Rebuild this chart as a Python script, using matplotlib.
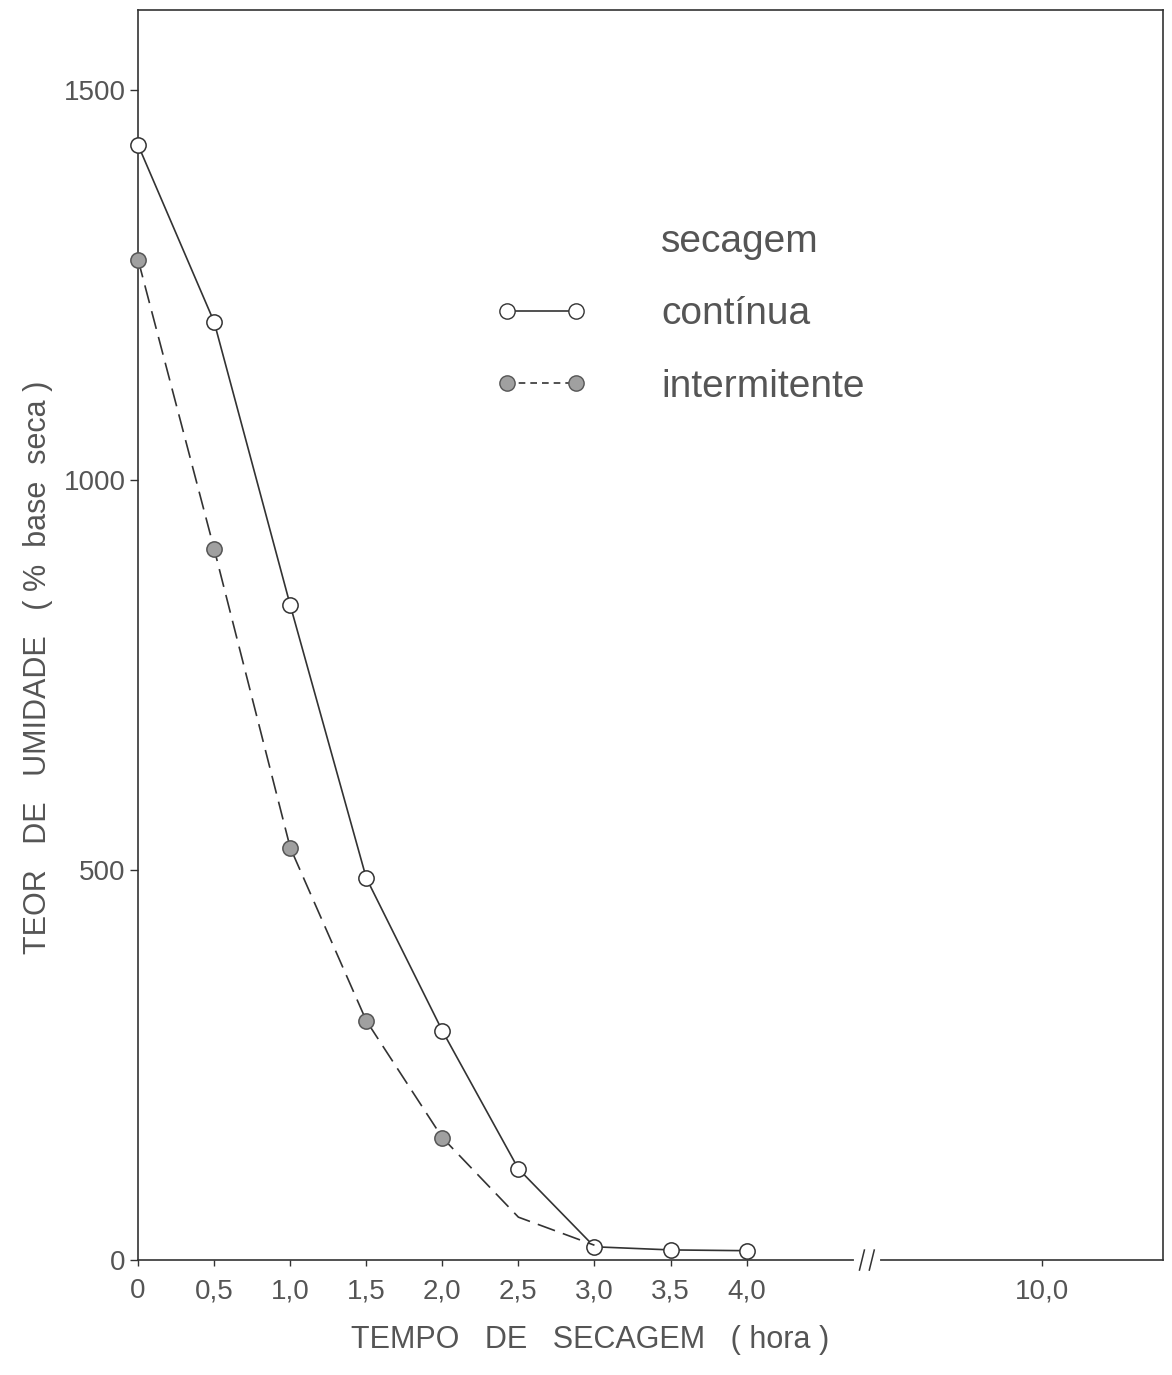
import matplotlib
matplotlib.use("Agg")
import matplotlib.pyplot as plt
import numpy as np
from matplotlib.lines import Line2D

plt.rcParams['font.family'] = ['Liberation Sans', 'DejaVu Sans']

TXT = '#555555'
LN = '#333333'

# tempo de secagem (hora)
tempo_cont = [0, 0.5, 1.0, 1.5, 2.0, 2.5, 3.0, 3.5, 4.0]
umid_cont = [1430, 1203, 840, 490, 294, 117, 17, 13, 12]

tempo_int = [0, 0.5, 1.0, 1.5, 2.0, 2.5, 3.0]
umid_int = [1283, 912, 529, 307, 157, 55, 19]

xticks = [0, 0.5, 1.0, 1.5, 2.0, 2.5, 3.0, 3.5, 4.0, 10.0]
xticklabels = ['0', '0,5', '1,0', '1,5', '2,0', '2,5', '3,0', '3,5', '4,0', '10,0']
yticks = [0, 500, 1000, 1500]

# broken x axis: from 4 h onward the scale is compressed
K = 0.324


def fwd(x):
    x = np.asarray(x, dtype=float)
    return np.where(x <= 4, x, 4 + (x - 4) * K)


def inv(p):
    p = np.asarray(p, dtype=float)
    return np.where(p <= 4, p, 4 + (p - 4) / K)


fig = plt.figure(figsize=(11.72, 13.75), dpi=100)
ax = fig.add_axes([0.1178, 0.0836, 0.8746, 0.9091])
ax.set_xscale('function', functions=(fwd, inv))

ax.plot(tempo_cont, umid_cont, color=LN, lw=1.2, marker='o', ms=11,
        mfc='white', mec=LN, mew=1.1, clip_on=False, zorder=3)
ax.plot(tempo_int, umid_int, color=LN, lw=1.2, dashes=(11, 5), marker='o',
        ms=11, mfc='#a0a0a0', mec='#555555', mew=1.1, markevery=[0, 1, 2, 3, 4],
        clip_on=False, zorder=3)

ax.set_xlim(0, 12.45)
ax.set_ylim(0, 1603)
ax.set_xticks(xticks)
ax.set_xticklabels(xticklabels)
ax.set_yticks(yticks)
ax.minorticks_off()
ax.tick_params(direction='out', width=1, color=LN, labelsize=20, labelcolor=TXT)
ax.tick_params(axis='x', length=4, pad=9)
ax.tick_params(axis='y', length=6, pad=3)
for s in ax.spines.values():
    s.set_color(LN)
    s.set_linewidth(1.2)

ax.set_xlabel('TEMPO   DE   SECAGEM   ( hora )', fontsize=22, color=TXT)
ax.xaxis.set_label_coords(0.441, -0.052)
ax.set_ylabel('TEOR   DE   UMIDADE   ( %  base  seca )', fontsize=22, color=TXT)
ax.yaxis.set_label_coords(-0.083, 0.474)

# break mark on the x axis
tr = ax.get_xaxis_transform()
brk = 6.44
ax.plot([brk - 0.22, brk + 0.22], [0, 0], color='white', lw=3, transform=tr,
        clip_on=False, zorder=4)
for dx in (-0.1, 0.1):
    ax.plot([brk + dx - 0.05, brk + dx + 0.05], [-0.008, 0.008], color=LN, lw=1.1,
            transform=tr, clip_on=False, zorder=5)

handles = [Line2D([], [], ls='none'),
           Line2D([], [], color=LN, lw=1.2, marker='o', ms=11, mfc='white', mec=LN),
           Line2D([], [], color=LN, lw=1.2, dashes=(4, 3), marker='o', ms=11,
                  mfc='#a0a0a0', mec='#555555')]
leg = ax.legend(handles, ['secagem', 'contínua', 'intermitente'], loc='upper left',
                bbox_to_anchor=(0.349, 0.829), frameon=False, fontsize=28,
                numpoints=2, handlelength=2.35, handletextpad=1.9,
                labelspacing=0.94, borderpad=0, borderaxespad=0)
for t in leg.get_texts():
    t.set_color(TXT)

fig.savefig('out.png', dpi=100, facecolor='white')
